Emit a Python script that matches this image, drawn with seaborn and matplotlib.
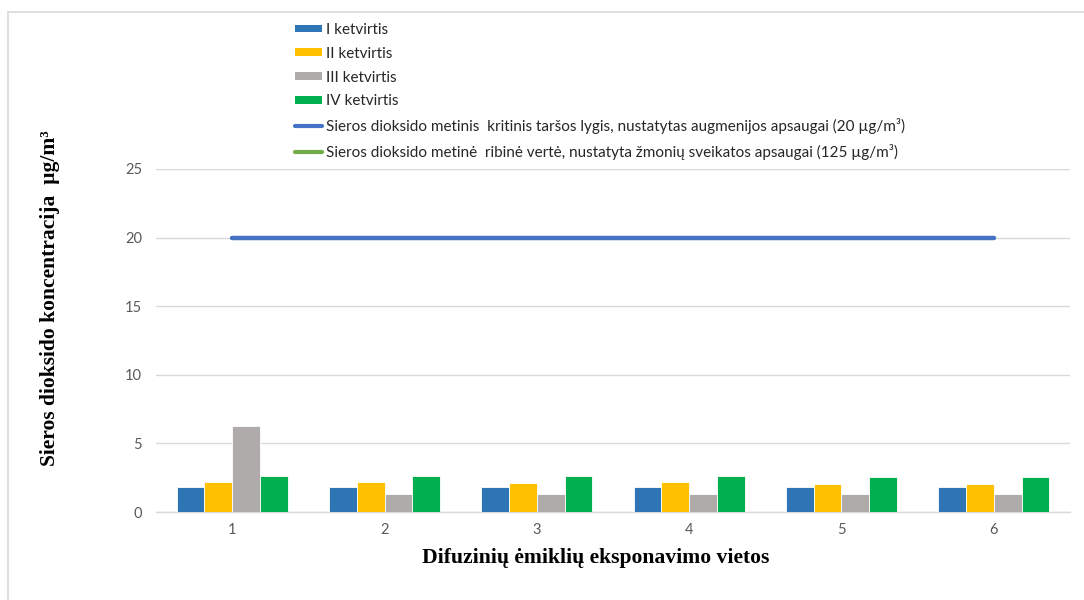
import numpy as np
import pandas as pd
import matplotlib
matplotlib.use("Agg")
import matplotlib.pyplot as plt
from matplotlib.patches import Patch
from matplotlib.lines import Line2D
import seaborn as sns

# Sampling sites and quarterly SO2 concentrations (µg/m³)
sites = ["1", "2", "3", "4", "5", "6"]
quarters = ["I ketvirtis", "II ketvirtis", "III ketvirtis", "IV ketvirtis"]
q1 = [1.80, 1.80, 1.80, 1.80, 1.80, 1.80]
q2 = [2.19, 2.19, 2.12, 2.19, 2.04, 2.04]
q3 = [6.27, 1.34, 1.34, 1.34, 1.34, 1.34]
q4 = [2.60, 2.60, 2.60, 2.60, 2.53, 2.53]

# Reference levels
limit_vegetation = 20
limit_health = 125
limit_labels = [
    "Sieros dioksido metinis  kritinis taršos lygis, nustatytas augmenijos apsaugai (20 µg/m³)",
    "Sieros dioksido metinė  ribinė vertė, nustatyta žmonių sveikatos apsaugai (125 µg/m³)",
]

bar_colors = ["#2E75B6", "#FFC000", "#AFABAB", "#00B050"]
line_colors = ["#4472C4", "#70AD47"]

rows = []
for qname, vals in zip(quarters, [q1, q2, q3, q4]):
    for s, v in zip(sites, vals):
        rows.append({"site": s, "quarter": qname, "value": v})
df = pd.DataFrame(rows)

sns.set_theme(style="white")
plt.rcParams["font.family"] = ["Lato", "DejaVu Sans"]

fig = plt.figure(figsize=(10.84, 6.0), dpi=100)
ax = fig.add_axes([156 / 1084, 1 - 512 / 600, (1070 - 156) / 1084, (512 - 169) / 600])

sns.barplot(data=df, x="site", y="value", hue="quarter", order=sites,
            hue_order=quarters, palette=bar_colors, saturation=1, width=0.73,
            edgecolor="white", linewidth=0.6, errorbar=None, ax=ax, legend=False,
            zorder=3)

xpos = np.arange(len(sites))
ax.plot(xpos, np.full(len(sites), limit_vegetation), color=line_colors[0],
        lw=3.2, solid_capstyle="round", zorder=4)
ax.plot(xpos, np.full(len(sites), limit_health), color=line_colors[1],
        lw=3.2, solid_capstyle="round", zorder=4)

ax.set_ylim(0, 25)
ax.set_xlim(-0.5, len(sites) - 0.5)
ax.set_yticks([0, 5, 10, 15, 20, 25])
ax.yaxis.grid(True, color="#D9D9D9", lw=1.0, zorder=0)
ax.set_axisbelow(True)
for side in ["top", "right", "left"]:
    ax.spines[side].set_visible(False)
ax.spines["bottom"].set_color("#D9D9D9")
ax.spines["bottom"].set_linewidth(1.0)
ax.tick_params(axis="both", length=0, labelsize=10.5, labelcolor="#595959")
ax.tick_params(axis="x", pad=8)
ax.tick_params(axis="y", pad=10)
ax.set_xlabel("")
ax.set_ylabel("")

fig.text(596 / 1084, 1 - 558 / 600, "Difuzinių ėmiklių eksponavimo vietos",
         family="Liberation Serif", fontweight="bold", fontsize=15.6,
         ha="center", va="center", color="black")
fig.text(50 / 1084, 1 - 298 / 600, "Sieros dioksido koncentracija  µg/m³",
         family="Liberation Serif", fontweight="bold", fontsize=15.5,
         rotation=90, ha="center", va="center", color="black")

handles = [Patch(facecolor=c, edgecolor="none") for c in bar_colors]
handles += [Line2D([0], [0], color=c, lw=3) for c in line_colors]
labels = quarters + limit_labels
fig.legend(handles, labels, loc="upper left",
           bbox_to_anchor=(295 / 1084, 1 - 23 / 600), frameon=False,
           fontsize=11, handlelength=1.75, handleheight=0.4,
           handletextpad=0.3, labelspacing=0.64, borderaxespad=0,
           borderpad=0)

# Chart-area frame (top and left edges)
fig.add_artist(Line2D([8 / 1084, 1.0], [1 - 12 / 600, 1 - 12 / 600],
                      transform=fig.transFigure, color="#D9D9D9", lw=1.2))
fig.add_artist(Line2D([8 / 1084, 8 / 1084], [0.0, 1 - 12 / 600],
                      transform=fig.transFigure, color="#D9D9D9", lw=1.2))

fig.savefig("out.png", dpi=100, facecolor="white")
